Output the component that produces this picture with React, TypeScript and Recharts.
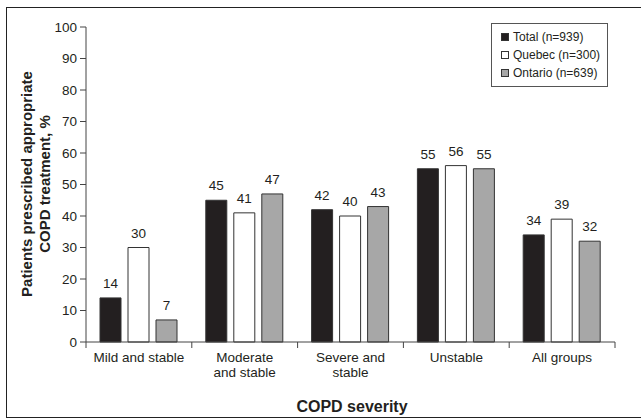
import React from 'react';
import { BarChart, Bar, XAxis, YAxis, LabelList, Legend, Label } from 'recharts';

const CATEGORIES = ['Mild and stable', 'Moderate\nand stable', 'Severe and\nstable', 'Unstable', 'All groups'];
const TOTAL = [14, 45, 42, 55, 34];
const QUEBEC = [30, 41, 40, 56, 39];
const ONTARIO = [7, 47, 43, 55, 32];
const Y_TICKS = [0, 10, 20, 30, 40, 50, 60, 70, 80, 90, 100];
const SERIES = [
  { key: 'total', name: 'Total (n=939)', fill: '#231f20' },
  { key: 'quebec', name: 'Quebec (n=300)', fill: '#ffffff' },
  { key: 'ontario', name: 'Ontario (n=639)', fill: '#a7a7a7' },
];

const data = CATEGORIES.map((c, i) => ({
  category: c,
  total: TOTAL[i],
  quebec: QUEBEC[i],
  ontario: ONTARIO[i],
}));

const FONT = '"Liberation Sans", Arial, Helvetica, sans-serif';
const INK = '#231f20';
const AXIS = '#444';
const W = 641;
const H = 420;
const MARGIN = { top: 27, right: 26, bottom: 0, left: 0 };
const Y_W = 86;
const X_H = 78;
const BAND = (W - MARGIN.left - MARGIN.right - Y_W) / CATEGORIES.length;

const CatTick = (props: any) => {
  const { x, y, payload, index } = props;
  const half = payload && payload.offset ? payload.offset : BAND / 2;
  const lines = String(payload.value).split('\n');
  return (
    <g>
      <line x1={x - half} y1={y} x2={x - half} y2={y + 6} stroke={AXIS} strokeWidth={1} />
      {index === CATEGORIES.length - 1 && (
        <line x1={x + half} y1={y} x2={x + half} y2={y + 6} stroke={AXIS} strokeWidth={1} />
      )}
      <text x={x} y={y + 20} textAnchor="middle" fontSize={13.5} fill={INK} fontFamily={FONT}>
        {lines.map((l, i) => (
          <tspan key={i} x={x} dy={i === 0 ? 0 : 14.5}>
            {l}
          </tspan>
        ))}
      </text>
    </g>
  );
};

const renderYLabel = () => (
  <text
    transform="translate(32,184) rotate(-90)"
    textAnchor="middle"
    fontSize={15}
    fontWeight="bold"
    fill={INK}
    fontFamily={FONT}
  >
    <tspan x={0} dy={0}>Patients prescribed appropriate</tspan>
    <tspan x={0} dy={18}>COPD treatment, %</tspan>
  </text>
);

const renderXLabel = () => (
  <text x={352} y={412} textAnchor="middle" fontSize={16} fontWeight="bold" fill={INK} fontFamily={FONT}>
    COPD severity
  </text>
);

const LegendBox = () => (
  <div
    style={{
      border: '1px solid #555',
      background: '#fff',
      boxSizing: 'border-box',
      width: 117,
      height: 64,
      paddingTop: 4,
      paddingLeft: 9,
      fontFamily: FONT,
      fontSize: 12,
      color: INK,
    }}
  >
    {SERIES.map((s) => (
      <div key={s.key} style={{ height: 18, lineHeight: '18px', whiteSpace: 'nowrap', display: 'flex', alignItems: 'center' }}>
        <span
          style={{
            display: 'inline-block',
            width: 8,
            height: 8,
            boxSizing: 'border-box',
            border: '1px solid #333',
            background: s.fill,
            marginRight: 4,
          }}
        />
        <span>{s.name}</span>
      </div>
    ))}
  </div>
);

export default function App() {
  return (
    <div style={{ position: 'absolute', left: 0, top: 0, width: W, height: H, overflow: 'hidden', background: '#fff' }}>
      <div
        style={{
          position: 'absolute',
          left: 6,
          top: 7,
          width: 700,
          height: 411,
          boxSizing: 'border-box',
          borderTop: '1.5px solid #222',
          borderLeft: '1.5px solid #222',
          borderBottom: '1.5px solid #222',
        }}
      />
      <div style={{ position: 'absolute', left: 0, top: 0 }}>
        <BarChart width={W} height={H} data={data} margin={MARGIN} barCategoryGap={14} barGap={7}>
          <XAxis
            dataKey="category"
            interval={0}
            height={X_H}
            tickLine={false}
            tickSize={0}
            tickMargin={0}
            axisLine={{ stroke: AXIS }}
            tick={<CatTick />}
          >
            <Label content={renderXLabel} />
          </XAxis>
          <YAxis
            width={Y_W}
            domain={[0, 100]}
            ticks={Y_TICKS}
            interval={0}
            tickSize={6}
            tickMargin={3}
            axisLine={{ stroke: AXIS }}
            tickLine={{ stroke: AXIS }}
            tick={{ fontSize: 13.5, fill: INK, fontFamily: FONT }}
          >
            <Label content={renderYLabel} />
          </YAxis>
          <Legend
            layout="vertical"
            align="center"
            verticalAlign="middle"
            content={<LegendBox />}
            wrapperStyle={{ position: 'absolute', left: 491, top: 23, width: 117, height: 64 }}
          />
          {SERIES.map((s) => (
            <Bar key={s.key} dataKey={s.key} name={s.name} fill={s.fill} stroke="#333" strokeWidth={1} isAnimationActive={false}>
              <LabelList dataKey={s.key} position="top" offset={10} fontSize={13.5} fill={INK} fontFamily={FONT} />
            </Bar>
          ))}
        </BarChart>
      </div>
    </div>
  );
}
